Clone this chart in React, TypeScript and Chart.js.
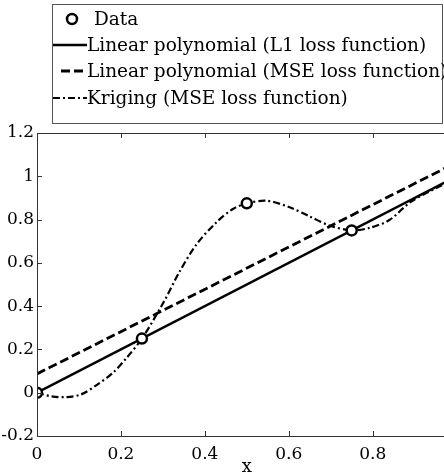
import React, { useEffect, useRef } from "react";
import { Chart, registerables } from "chart.js";

Chart.register(...registerables);

// ---- data ----
const dataX = [0, 0.25, 0.5, 0.75];
const dataY = [0, 0.25, 0.875, 0.75];

const l1X = [0, 1];
const l1Y = [0, 1];

const mseX = [0, 1];
const mseY = [0.087, 1.064];

const krigX = [0, 0.035, 0.07, 0.105, 0.142, 0.181, 0.213, 0.25, 0.3, 0.34, 0.38, 0.428, 0.467, 0.5, 0.547, 0.602, 0.65, 0.698, 0.75, 0.793, 0.84, 0.888, 0.93, 1.0];
const krigY = [0, -0.017, -0.02, -0.008, 0.035, 0.092, 0.16, 0.25, 0.412, 0.56, 0.685, 0.788, 0.849, 0.875, 0.887, 0.857, 0.814, 0.772, 0.75, 0.762, 0.798, 0.878, 0.925, 0.99];

const xTicks = [0, 0.2, 0.4, 0.6, 0.8, 1];
const yTicks = [-0.2, 0, 0.2, 0.4, 0.6, 0.8, 1, 1.2];

const labels = [
  "Data",
  "Linear polynomial (L1 loss function)",
  "Linear polynomial (MSE loss function)",
  "Kriging (MSE loss function)",
];

const FONT = "'DejaVu Serif', serif";
const AXIS_COLOR = "#333333";

const zip = (xs: number[], ys: number[]) => xs.map((x, i) => ({ x, y: ys[i] }));
const fmt = (v: number) => String(Number(Number(v).toFixed(1)));

const framePlugin = {
  id: "frameAndLegend",
  afterDraw(chart: any) {
    const ctx = chart.ctx as CanvasRenderingContext2D;
    const { left, right, top, bottom } = chart.chartArea;
    const xs = chart.scales.x;
    const ys = chart.scales.y;
    ctx.save();
    // frame
    ctx.strokeStyle = AXIS_COLOR;
    ctx.lineWidth = 1;
    ctx.setLineDash([]);
    ctx.beginPath();
    ctx.rect(Math.round(left) + 0.5, Math.round(top) + 0.5, Math.round(right - left), Math.round(bottom - top));
    ctx.stroke();
    // inward ticks
    const tl = 5;
    ctx.beginPath();
    xTicks.forEach((v) => {
      const px = Math.round(xs.getPixelForValue(v)) + 0.5;
      ctx.moveTo(px, bottom);
      ctx.lineTo(px, bottom - tl);
      ctx.moveTo(px, top);
      ctx.lineTo(px, top + tl);
    });
    yTicks.forEach((v) => {
      const py = Math.round(ys.getPixelForValue(v)) + 0.5;
      ctx.moveTo(left, py);
      ctx.lineTo(left + tl, py);
      ctx.moveTo(right, py);
      ctx.lineTo(right - tl, py);
    });
    ctx.stroke();

    // legend
    const bx = 52.5, by = 4.5, bw = 390, bh = 119;
    ctx.fillStyle = "#ffffff";
    ctx.fillRect(bx, by, bw, bh);
    ctx.strokeStyle = "#555555";
    ctx.lineWidth = 1;
    ctx.strokeRect(bx, by, bw, bh);
    const rows = [19, 45, 71, 98];
    const ds = chart.data.datasets;
    ctx.font = `18.5px ${FONT}`;
    ctx.textBaseline = "middle";
    ctx.textAlign = "left";
    ds.forEach((d: any, i: number) => {
      const y = rows[i];
      ctx.strokeStyle = "#000";
      if (i === 0) {
        ctx.setLineDash([]);
        ctx.lineWidth = d.pointBorderWidth;
        ctx.fillStyle = "#fff";
        ctx.beginPath();
        ctx.arc(72, y, d.pointRadius, 0, Math.PI * 2);
        ctx.fill();
        ctx.stroke();
        ctx.fillStyle = "#000";
        ctx.fillText(d.label, 94, y + 1);
      } else {
        ctx.lineWidth = d.borderWidth;
        ctx.setLineDash(d.borderDash || []);
        ctx.beginPath();
        const x0 = i === 2 ? 61 : 53;
        ctx.moveTo(x0, y);
        ctx.lineTo(87, y);
        ctx.stroke();
        ctx.setLineDash([]);
        ctx.fillStyle = "#000";
        ctx.fillText(d.label, 87, y + 1);
      }
    });
    ctx.restore();
  },
};

export default function App() {
  const ref = useRef<HTMLCanvasElement | null>(null);
  useEffect(() => {
    if (!ref.current) return;
    const chart = new Chart(ref.current, {
      type: "scatter",
      data: {
        datasets: [
          {
            label: labels[0],
            data: zip(dataX, dataY),
            showLine: false,
            pointRadius: 5,
            pointBorderWidth: 2.5,
            pointBackgroundColor: "#ffffff",
            pointBorderColor: "#000000",
          } as any,
          {
            label: labels[1],
            data: zip(l1X, l1Y),
            showLine: true,
            borderColor: "#000",
            borderWidth: 2.5,
            pointRadius: 0,
          },
          {
            label: labels[2],
            data: zip(mseX, mseY),
            showLine: true,
            borderColor: "#000",
            borderWidth: 2.8,
            borderDash: [9, 4],
            pointRadius: 0,
          },
          {
            label: labels[3],
            data: zip(krigX, krigY),
            showLine: true,
            borderColor: "#000",
            borderWidth: 2.2,
            borderDash: [7, 3, 2, 3],
            tension: 0.3,
            pointRadius: 0,
          },
        ],
      },
      options: {
        responsive: false,
        animation: false,
        devicePixelRatio: 1,
        layout: { padding: { top: 133, right: 13, left: 0, bottom: 0 } },
        plugins: { legend: { display: false }, tooltip: { enabled: false } },
        scales: {
          x: {
            type: "linear",
            min: 0,
            max: 1,
            afterBuildTicks: (s: any) => {
              s.ticks = xTicks.map((v) => ({ value: v }));
            },
            afterFit: (s: any) => {
              s.height = 39;
            },
            grid: { display: false, drawTicks: false },
            border: { display: false },
            ticks: {
              padding: 8,
              color: "#000",
              font: { family: FONT, size: 17 },
              callback: (v: any) => fmt(v),
              maxRotation: 0,
            },
            title: {
              display: true,
              text: "x",
              color: "#000",
              font: { family: FONT, size: 18 },
              padding: { top: 0, bottom: -3 },
            },
          },
          y: {
            type: "linear",
            min: -0.2,
            max: 1.2,
            afterBuildTicks: (s: any) => {
              s.ticks = yTicks.map((v) => ({ value: v }));
            },
            afterFit: (s: any) => {
              s.width = 37;
            },
            grid: { display: false, drawTicks: false },
            border: { display: false },
            ticks: {
              padding: 3,
              color: "#000",
              font: { family: FONT, size: 17 },
              callback: (v: any) => fmt(v),
            },
          },
        },
      },
      plugins: [framePlugin],
    } as any);
    return () => chart.destroy();
  }, []);
  return (
    <div style={{ position: "fixed", left: 0, top: 0, width: 444, height: 475, overflow: "hidden", background: "#fff" }}>
      <canvas ref={ref} width={470} height={475} style={{ display: "block" }} />
    </div>
  );
}
